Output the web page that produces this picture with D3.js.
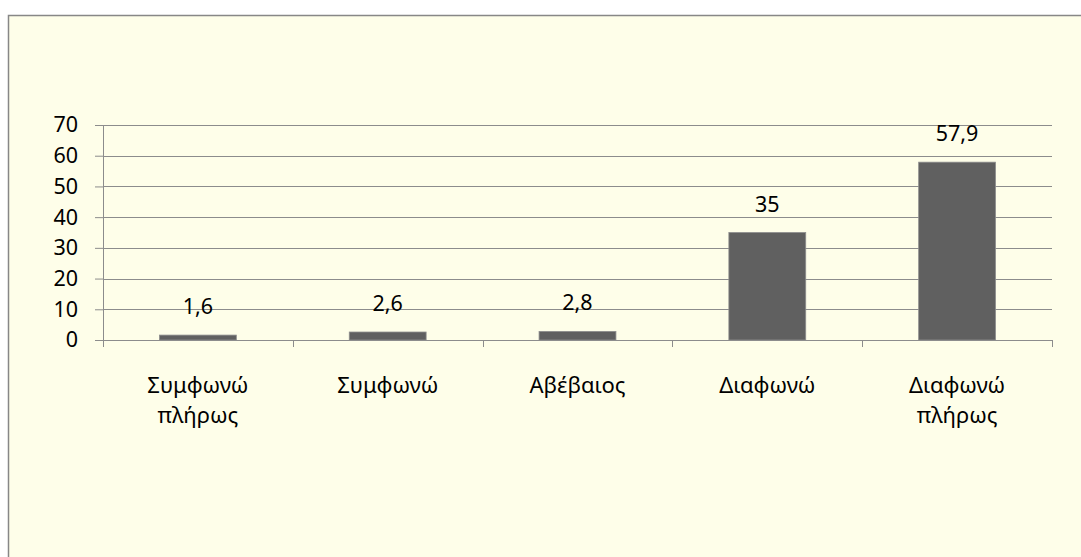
<!DOCTYPE html>
<html>
<head>
<meta charset="utf-8">
<script src="https://d3js.org/d3.v7.min.js" type="text/javascript"></script>
<style>
  body { margin: 0; background: #ffffff; }
  text { font-family: "Noto Sans", "Open Sans", sans-serif; fill: #000; }
</style>
</head>
<body>
<div id="chart"></div>
<script>
// chart data
const categories = [["Συμφωνώ", "πλήρως"], ["Συμφωνώ"], ["Αβέβαιος"], ["Διαφωνώ"], ["Διαφωνώ", "πλήρως"]];
const values = [1.6, 2.6, 2.8, 35, 57.9];
const valueLabels = ["1,6", "2,6", "2,8", "35", "57,9"];
const yTicks = [0, 10, 20, 30, 40, 50, 60, 70];

const W = 1081, H = 557;
let margins = { l: 103, r: 29, t: 125, b: 217 };
let chartWidth = W - margins.l - margins.r,
    chartHeight = H - margins.t - margins.b;

let svg = d3.select("#chart").append("svg")
    .attr("width", W)
    .attr("height", H);

// frame
svg.append("rect")
    .attr("x", 8.5).attr("y", 15.5)
    .attr("width", 1200).attr("height", 700)
    .attr("fill", "#fefee9")
    .attr("stroke", "#878787")
    .attr("stroke-width", 1.5);

let g = svg.append("g")
    .attr("transform", `translate(${margins.l},${margins.t})`);

let x = d3.scaleBand().domain(d3.range(categories.length)).range([0, chartWidth]).paddingInner(0).paddingOuter(0);
let y = d3.scaleLinear().domain([0, 70]).range([chartHeight, 0]);

// gridlines
g.selectAll(".grid")
    .data(yTicks.slice(1))
    .enter().append("line")
    .attr("x1", 0).attr("x2", chartWidth)
    .attr("y1", d => Math.round(y(d)) + 0.5).attr("y2", d => Math.round(y(d)) + 0.5)
    .attr("stroke", "#8c8c8c").attr("stroke-width", 1);

// y axis
let yAxis = g.append("g")
    .call(d3.axisLeft(y).tickValues(yTicks).tickSize(8).tickPadding(17).tickSizeOuter(0));
yAxis.selectAll("text").style("font-size", "21.5px");

// bars
let barW = x.bandwidth() * 0.405;
g.selectAll(".bar")
    .data(values)
    .enter().append("rect")
    .attr("class", "bar")
    .attr("x", (d, i) => x(i) + x.bandwidth() / 2 - barW / 2)
    .attr("y", d => y(d))
    .attr("width", barW)
    .attr("height", d => chartHeight - y(d))
    .attr("fill", "#606060")
    .attr("stroke", "#8e8e8e")
    .attr("stroke-width", 0.8);

// value labels
g.selectAll(".vlabel")
    .data(values)
    .enter().append("text")
    .attr("x", (d, i) => x(i) + x.bandwidth() / 2)
    .attr("y", d => y(d) - 21)
    .attr("text-anchor", "middle")
    .style("font-size", "21.5px")
    .text((d, i) => valueLabels[i]);

// x axis with ticks at band edges
let xAxis = g.append("g").attr("transform", `translate(0,${chartHeight})`);
xAxis.append("line")
    .attr("x1", 0).attr("x2", chartWidth)
    .attr("y1", 0.5).attr("y2", 0.5)
    .attr("stroke", "#8c8c8c");
xAxis.selectAll(".xtick")
    .data(d3.range(categories.length + 1))
    .enter().append("line")
    .attr("x1", d => Math.round(d === categories.length ? chartWidth : x(d)) + 0.5)
    .attr("x2", d => Math.round(d === categories.length ? chartWidth : x(d)) + 0.5)
    .attr("y1", 0).attr("y2", 7)
    .attr("stroke", "#8c8c8c");

let xl = xAxis.selectAll(".xlabel")
    .data(categories)
    .enter().append("text")
    .attr("text-anchor", "middle")
    .attr("transform", (d, i) => `translate(${x(i) + x.bandwidth() / 2},53)`)
    .style("font-size", "22px");
xl.selectAll("tspan")
    .data(d => d)
    .enter().append("tspan")
    .attr("x", 0)
    .attr("dy", (d, i) => i === 0 ? 0 : 30)
    .text(d => d);

yAxis.select(".domain").attr("stroke", "#8c8c8c");
yAxis.selectAll(".tick line").attr("stroke", "#8c8c8c");
</script>
</body>
</html>
